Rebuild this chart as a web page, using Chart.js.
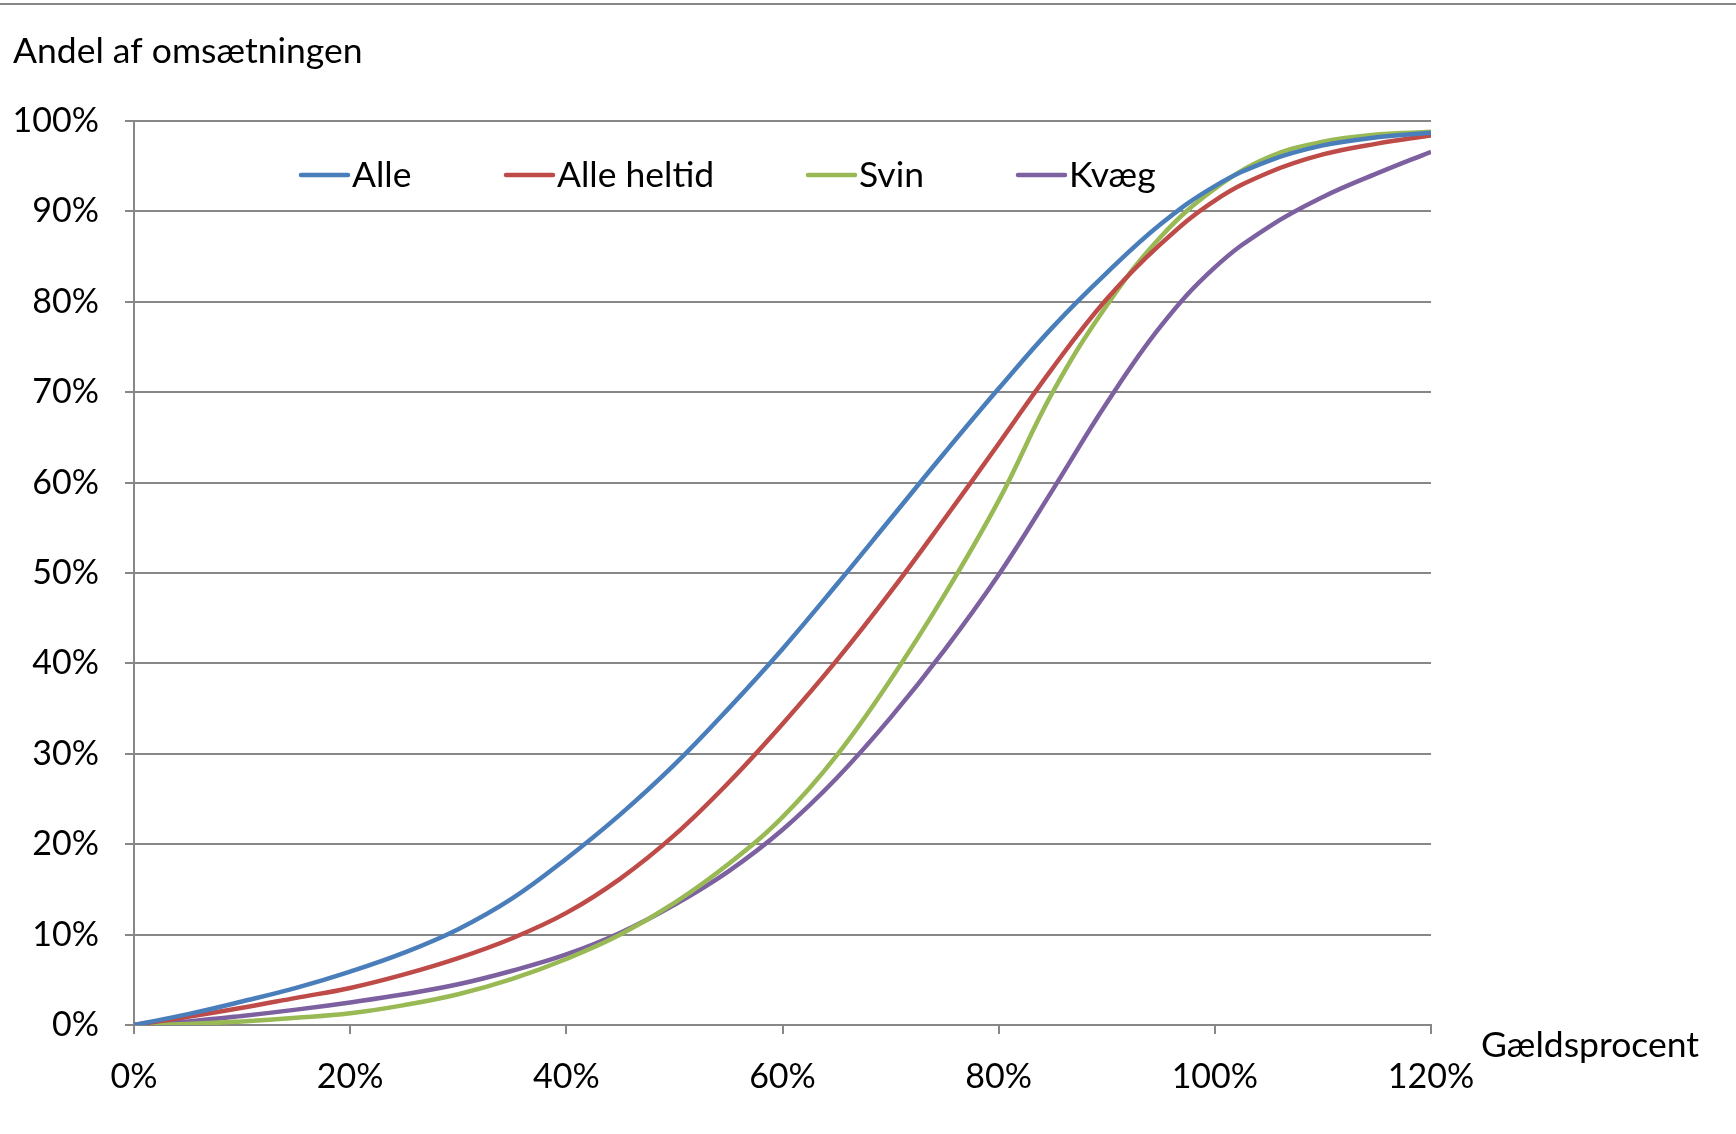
<!DOCTYPE html>
<html lang="da">
<head>
  <meta charset="UTF-8">
  <title>Andel af omsætningen</title>
  <script src="https://cdn.jsdelivr.net/npm/chart.js"></script>
  <style>
    html, body { margin: 0; padding: 0; background: #ffffff; }
    #wrap { width: 1736px; height: 1134px; }
  </style>
</head>
<body>
  <div id="wrap"><canvas id="chart"></canvas></div>
  <script>
    // Gældsprocent (x) i procent
    const gaeldsprocent = [0, 5, 10, 15, 20, 25, 30, 35, 40, 45, 50, 55, 60, 65, 70, 75, 80, 85, 90, 95, 100, 105, 110, 115, 120];
    // Andel af omsætningen (kumuleret, %)
    const alle        = [0, 1.2, 2.6, 4.1, 5.9, 8.0, 10.6, 14.0, 18.4, 23.3, 28.8, 35.0, 41.6, 48.7, 56.0, 63.3, 70.4, 77.2, 83.2, 88.6, 92.8, 95.6, 97.3, 98.2, 98.7];
    const alleHeltid  = [0, 0.9, 1.9, 3.0, 4.1, 5.6, 7.4, 9.6, 12.4, 16.2, 21.0, 26.8, 33.3, 40.3, 47.9, 56.0, 64.3, 72.7, 80.3, 86.4, 91.2, 94.3, 96.3, 97.5, 98.4];
    const svin        = [0, 0.1, 0.4, 0.8, 1.3, 2.2, 3.4, 5.1, 7.3, 10.0, 13.5, 17.8, 23.0, 29.8, 38.2, 47.6, 58.0, 70.0, 79.6, 87.2, 92.5, 96.0, 97.7, 98.5, 98.8];
    const kvaeg       = [0, 0.4, 1.0, 1.7, 2.5, 3.4, 4.5, 6.0, 7.8, 10.2, 13.3, 17.0, 21.6, 27.3, 34.0, 41.5, 49.8, 59.2, 68.8, 77.3, 83.8, 88.3, 91.6, 94.2, 96.6];

    const seriesNames = ['Alle', 'Alle heltid', 'Svin', 'Kvæg'];
    const seriesData = [alle, alleHeltid, svin, kvaeg];
    const seriesColors = ['#4a7ebb', '#be4b48', '#98b954', '#7d60a0'];

    const FONT = 'Lato, "Open Sans", sans-serif';
    const GRID = '#878787';

    const datasets = seriesNames.map(function (name, i) {
      return {
        label: name,
        data: gaeldsprocent.map(function (x, j) { return { x: x, y: seriesData[i][j] }; }),
        borderColor: seriesColors[i],
        backgroundColor: seriesColors[i],
        borderWidth: 4.5,
        pointRadius: 0,
        tension: 0.4,
        fill: false
      };
    });

    // tekster, legende og øverste streg
    const extras = {
      id: 'extras',
      afterDraw: function (chart) {
        const ctx = chart.ctx;
        const area = chart.chartArea;
        ctx.save();
        ctx.strokeStyle = GRID;
        ctx.lineWidth = 2;
        ctx.beginPath();
        ctx.moveTo(0, 4);
        ctx.lineTo(chart.width, 4);
        ctx.stroke();

        ctx.fillStyle = '#000';
        ctx.font = '35.5px ' + FONT;
        ctx.textBaseline = 'middle';
        ctx.textAlign = 'left';
        ctx.fillText('Andel af omsætningen', 13, 52);
        ctx.fillText('Gældsprocent', area.right + 50, 1046);

        // legende inde i plotområdet
        const legendX = [301, 506, 808, 1018];
        chart.data.datasets.forEach(function (ds, i) {
          const x = legendX[i];
          ctx.strokeStyle = ds.borderColor;
          ctx.lineWidth = 4.5;
          ctx.lineCap = 'round';
          ctx.beginPath();
          ctx.moveTo(x, 175);
          ctx.lineTo(x + 47, 175);
          ctx.stroke();
          ctx.fillText(ds.label, x + 51, 176);
        });
        ctx.restore();
      }
    };

    new Chart(document.getElementById('chart'), {
      type: 'line',
      data: { datasets: datasets },
      options: {
        responsive: true,
        maintainAspectRatio: false,
        animation: false,
        layout: { padding: { top: 121, right: 305, left: 0, bottom: 0 } },
        plugins: {
          legend: { display: false },
          tooltip: { enabled: false }
        },
        scales: {
          x: {
            type: 'linear',
            min: 0,
            max: 120,
            ticks: {
              stepSize: 20,
              color: '#000',
              font: { family: FONT, size: 34 },
              padding: 23,
              callback: function (v) { return v + '%'; }
            },
            grid: { drawOnChartArea: false, drawTicks: true, tickLength: 9, color: GRID, lineWidth: 2 },
            border: { color: GRID, width: 2 },
            afterFit: function (s) { s.height = 109; }
          },
          y: {
            min: 0,
            max: 100,
            ticks: {
              stepSize: 10,
              color: '#000',
              font: { family: FONT, size: 34 },
              padding: 26,
              callback: function (v) { return v + '%'; }
            },
            grid: { color: GRID, lineWidth: 2, tickLength: 9 },
            border: { color: GRID, width: 2 },
            afterFit: function (s) { s.width = 134; }
          }
        }
      },
      plugins: [extras]
    });
  </script>
</body>
</html>
